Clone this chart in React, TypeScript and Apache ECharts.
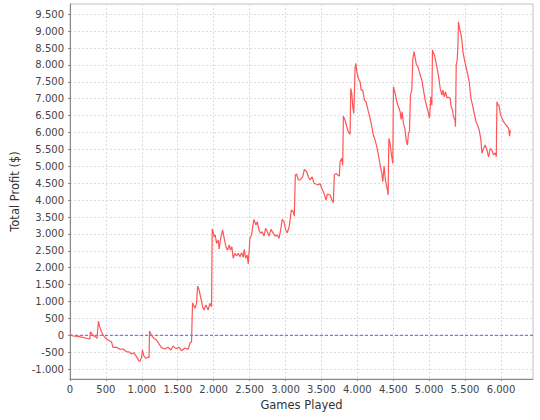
import React, { useEffect, useRef } from "react";
import * as echarts from "echarts";

const games: number[] = [
  0, 42, 112, 275, 284, 321, 368, 376, 396, 414, 438, 460, 498, 530, 577, 599, 647, 693, 739, 786,
  832, 856, 888, 926, 958, 972, 995, 1009, 1027, 1055, 1087, 1101, 1107, 1135, 1167, 1204, 1241, 1274, 1320, 1366,
  1404, 1436, 1474, 1520, 1553, 1599, 1645, 1659, 1669, 1692, 1706, 1738, 1762, 1776, 1798, 1818, 1846, 1864, 1892, 1924,
  1947, 1971, 1980, 1993, 2007, 2021, 2041, 2063, 2077, 2097, 2125, 2143, 2171, 2194, 2217, 2236, 2254, 2272, 2296, 2320,
  2342, 2366, 2389, 2412, 2426, 2445, 2467, 2481, 2495, 2505, 2529, 2543, 2561, 2589, 2607, 2631, 2654, 2677, 2700, 2724,
  2746, 2770, 2798, 2830, 2858, 2886, 2909, 2933, 2955, 2979, 3003, 3025, 3053, 3081, 3109, 3123, 3137, 3156, 3178, 3202,
  3240, 3262, 3296, 3318, 3342, 3370, 3398, 3425, 3457, 3481, 3505, 3537, 3565, 3583, 3620, 3644, 3666, 3680, 3704, 3728,
  3750, 3760, 3783, 3797, 3806, 3829, 3853, 3875, 3899, 3909, 3923, 3937, 3951, 3959, 3969, 3979, 3993, 4015, 4039, 4053,
  4076, 4099, 4122, 4154, 4178, 4202, 4224, 4248, 4271, 4294, 4318, 4341, 4355, 4373, 4391, 4411, 4429, 4439, 4457, 4475,
  4494, 4503, 4527, 4550, 4572, 4596, 4610, 4624, 4642, 4662, 4680, 4698, 4712, 4726, 4740, 4759, 4773, 4791, 4819, 4851,
  4875, 4899, 4921, 4945, 4968, 4991, 5005, 5024, 5038, 5046, 5061, 5074, 5098, 5116, 5136, 5154, 5178, 5192, 5210, 5228,
  5247, 5270, 5293, 5307, 5325, 5339, 5359, 5367, 5377, 5391, 5401, 5409, 5423, 5437, 5456, 5470, 5488, 5512, 5534, 5558,
  5582, 5604, 5628, 5652, 5674, 5698, 5721, 5735, 5758, 5781, 5805, 5827, 5851, 5875, 5897, 5921, 5935, 5944, 5958, 5972,
  5990, 6014, 6036, 6060, 6084, 6106, 6120, 6130,
];

const profit: number[] = [
  30, -20, -30, -110, 100, 0, -70, -90, 420, 255, 107, 10, -90, -140, -190, -355, -355, -415, -405, -485,
  -495, -555, -515, -630, -750, -780, -650, -435, -610, -680, -650, -660, 127, 0, -90, -140, -260, -365, -405, -355,
  -435, -320, -395, -355, -455, -375, -415, -320, -235, -190, 965, 800, 945, 1460, 1340, 1140, 845, 750, 895, 750,
  945, 845, 3145, 3065, 2915, 2965, 2720, 2820, 2545, 2870, 3115, 2915, 2620, 2520, 2670, 2520, 2620, 2280, 2425, 2345,
  2425, 2325, 2445, 2305, 2545, 2280, 2375, 2110, 2520, 2870, 2965, 3210, 3430, 3260, 3360, 3115, 3015, 3065, 2935, 3165,
  3065, 2935, 3135, 3015, 2935, 2965, 2870, 3115, 3430, 3360, 3115, 3035, 3230, 3705, 3655, 3530, 4740, 4770, 4595, 4600,
  4690, 4910, 4840, 4690, 4595, 4690, 4495, 4475, 4445, 4495, 4345, 4200, 4000, 4180, 4150, 4020, 3920, 4740, 4790, 4740,
  4710, 5135, 5235, 5035, 6485, 6370, 6170, 6020, 5945, 7305, 7160, 6760, 6565, 7160, 7900, 8045, 7800, 7600, 7500, 7255,
  7255, 6960, 6910, 6615, 6420, 6170, 5925, 5775, 5580, 5335, 5035, 4790, 4545, 5005, 4595, 4395, 4150, 5825, 5680, 5335,
  5085, 7355, 7160, 6910, 6760, 6615, 6390, 6615, 6270, 6120, 5775, 5630, 5975, 6020, 7105, 7255, 8195, 8390, 8045, 7900,
  7700, 7550, 7255, 6960, 6760, 6565, 6420, 7055, 6810, 8440, 8340, 8290, 8045, 7850, 7600, 7305, 7105, 7255, 7055, 7205,
  7040, 7040, 7010, 6760, 6665, 6465, 6370, 6170, 7995, 8140, 8635, 9275, 9080, 8980, 8735, 8390, 8195, 7945, 7750, 7500,
  7010, 6810, 6565, 6320, 6220, 6070, 5775, 5385, 5530, 5630, 5480, 5280, 5530, 5480, 5335, 5400, 5280, 6910, 6810, 6810,
  6565, 6420, 6320, 6250, 6190, 6120, 5895, 6070,
];

const xMin = 0;
const xMax = 6446;
const yMin = -1293;
const yMax = 9802;
const zeroLevel = 0;

const xName = "Games Played";
const yName = "Total Profit ($)";

function fmt(v: number): string {
  const r = Math.round(v);
  const s = Math.abs(r).toString().replace(/\B(?=(\d{3})+(?!\d))/g, ".");
  return (r < 0 ? "-" : "") + s;
}

export default function App() {
  const ref = useRef<HTMLDivElement>(null);
  useEffect(() => {
    document.body.style.margin = "0";
    const chart = echarts.init(ref.current!, null, { renderer: "svg" });
    const labelStyle = { fontFamily: "DejaVu Sans", fontSize: 10, color: "#444" };
    chart.setOption({
      animation: false,
      backgroundColor: "#ffffff",
      grid: {
        left: 70,
        right: 7,
        top: 4,
        bottom: 41,
        show: true,
        borderColor: "#c4c4c4",
        borderWidth: 1,
        backgroundColor: "#ffffff",
      },
      xAxis: {
        type: "value",
        min: xMin,
        max: xMax,
        splitNumber: 13,
        minInterval: 500,
        maxInterval: 500,
        name: xName,
        nameLocation: "middle",
        nameGap: 20,
        nameTextStyle: { fontFamily: "DejaVu Sans", fontSize: 11.5, color: "#333" },
        axisLine: { show: true, onZero: false, lineStyle: { color: "#888", width: 1 } },
        axisTick: { show: true, length: 2, inside: false, lineStyle: { color: "#888" } },
        axisLabel: { ...labelStyle, margin: 5, formatter: fmt, showMaxLabel: false },
        splitLine: { show: true, lineStyle: { color: "#dcdcdc", type: [2, 2], width: 1 } },
      },
      yAxis: {
        type: "value",
        min: yMin,
        max: yMax,
        splitNumber: 22,
        minInterval: 500,
        maxInterval: 500,
        name: yName,
        nameLocation: "middle",
        nameGap: 38,
        nameTextStyle: { fontFamily: "DejaVu Sans", fontSize: 11.5, color: "#333" },
        axisLine: { show: true, onZero: false, lineStyle: { color: "#888", width: 1 } },
        axisTick: { show: true, length: 2, inside: false, lineStyle: { color: "#888" } },
        axisLabel: { ...labelStyle, margin: 6, formatter: fmt, showMinLabel: false, showMaxLabel: false },
        splitLine: { show: true, lineStyle: { color: "#dcdcdc", type: [2, 2], width: 1 } },
      },
      series: [
        {
          name: "zero",
          type: "line",
          data: [
            [xMin, zeroLevel],
            [xMax, zeroLevel],
          ],
          showSymbol: false,
          symbol: "none",
          silent: true,
          lineStyle: { color: "#5a5af0", type: [3, 2], width: 1 },
          itemStyle: { color: "#5a5af0" },
          z: 2,
        },
        {
          name: "profit",
          type: "line",
          data: games.map((g, i) => [g, profit[i]]),
          showSymbol: false,
          symbol: "none",
          lineStyle: { color: "#ff5555", width: 1.2 },
          itemStyle: { color: "#ff5555" },
          z: 3,
        },
      ],
    });
    return () => chart.dispose();
  }, []);
  return (
    <div
      ref={ref}
      style={{ position: "fixed", left: 0, top: 0, width: 540, height: 420 }}
    />
  );
}
